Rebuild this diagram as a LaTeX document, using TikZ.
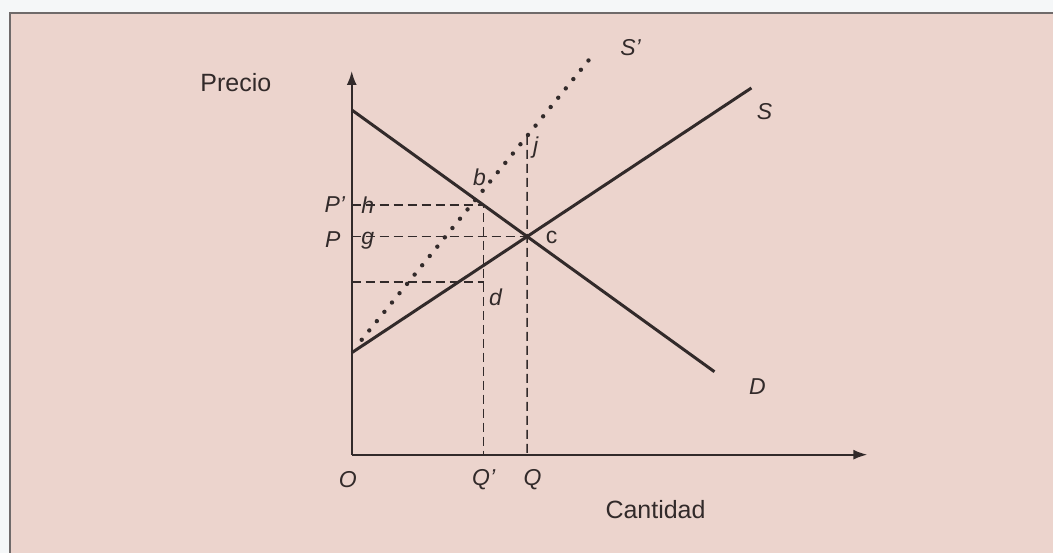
\documentclass[tikz,border=0pt]{standalone}
\usepackage{fontspec}
\setmainfont{Liberation Sans}
\usetikzlibrary{arrows.meta}
\definecolor{pageink}{HTML}{322A2A}
\definecolor{pagetint}{HTML}{ECD4CD}
\definecolor{pagemargin}{HTML}{F5F7F8}

\begin{document}
\begin{tikzpicture}[
  x=0.5pt,
  y=-0.5pt,
  every node/.style={font=\fontsize{11.5}{13}\selectfont\itshape, text=pageink, inner sep=0pt},
  title/.style={font=\fontsize{12.5}{14}\selectfont\upshape},
  plain/.style={font=\fontsize{11.5}{13}\selectfont\upshape},
  curve/.style={pageink, line width=1.5pt},
  axis/.style={pageink, line width=1pt, -{Latex[length=7pt,width=5pt]}},
  guide/.style={pageink, line width=0.8pt, dash pattern=on 4.5pt off 2.5pt},
  shifted/.style={pageink, line width=2.2pt, line cap=round, dash pattern=on 0pt off 6pt}
]
  % page and frame
  \fill[pagemargin] (0,0) rectangle (1054,553);
  \fill[pagetint] (10,13) rectangle (1054,553);
  \draw[pageink!70, line width=0.8pt] (10,553) -- (10,13) -- (1054,13);

  % points
  \coordinate (O) at (352,455);
  \coordinate (ytip) at (352,71);
  \coordinate (xtip) at (868,455);
  \coordinate (Dtop) at (352,110);
  \coordinate (Dend) at (715,372);
  \coordinate (Sbot) at (352,353);
  \coordinate (Send) at (752,88);
  \coordinate (Spbot) at (362,340);
  \coordinate (Sptop) at (595,53);
  \coordinate (eq) at (intersection of Dtop--Dend and Sbot--Send);
  \coordinate (Peq) at (O |- eq);
  \coordinate (Qeq) at (O -| eq);
  \coordinate (top) at (484,205);
  \coordinate (Ptop) at (O |- top);
  \coordinate (Qtop) at (O -| top);
  \coordinate (low) at (484,282);
  \coordinate (Plow) at (O |- low);
  \coordinate (jpt) at (intersection of Spbot--Sptop and Qeq--eq);

  % dashed guides
  \draw[guide] (Ptop) -- (top) -- (Qtop);
  \draw[guide] (Plow) -- (low);
  \draw[guide] (Peq) -- (eq);
  \draw[guide] (jpt) -- (Qeq);

  % axes
  \draw[axis] (O) -- (ytip);
  \draw[axis] (O) -- (xtip);

  % demand, supply and shifted supply
  \draw[curve] (Dtop) -- (Dend);
  \draw[curve] (Sbot) -- (Send);
  \draw[shifted] (Spbot) -- (Sptop);

  % labels
  \node[title] (precio) at (236,83) {Precio};
  \node[title] (cantidad) at (656,510) {Cantidad};
  \node (lblO) at (348,480) {O};
  \node (lblQp) at (484,480) {Q'};
  \node (lblQ) at (533,480) {Q};
  \node (lblPp) at (335,205) {P'};
  \node (lblP) at (333,240) {P};
  \node (lblh) at (368,205) {h};
  \node (lblg) at (368,241) {g};
  \node (lblb) at (480,177) {b};
  \node (lblj) at (536,148) {j};
  \node[plain] (lblc) at (552,238) {c};
  \node (lbld) at (496,298) {d};
  \node (lblS) at (765,112) {S};
  \node (lblSp) at (631,48) {S'};
  \node (lblD) at (758,387) {D};
\end{tikzpicture}
\end{document}
